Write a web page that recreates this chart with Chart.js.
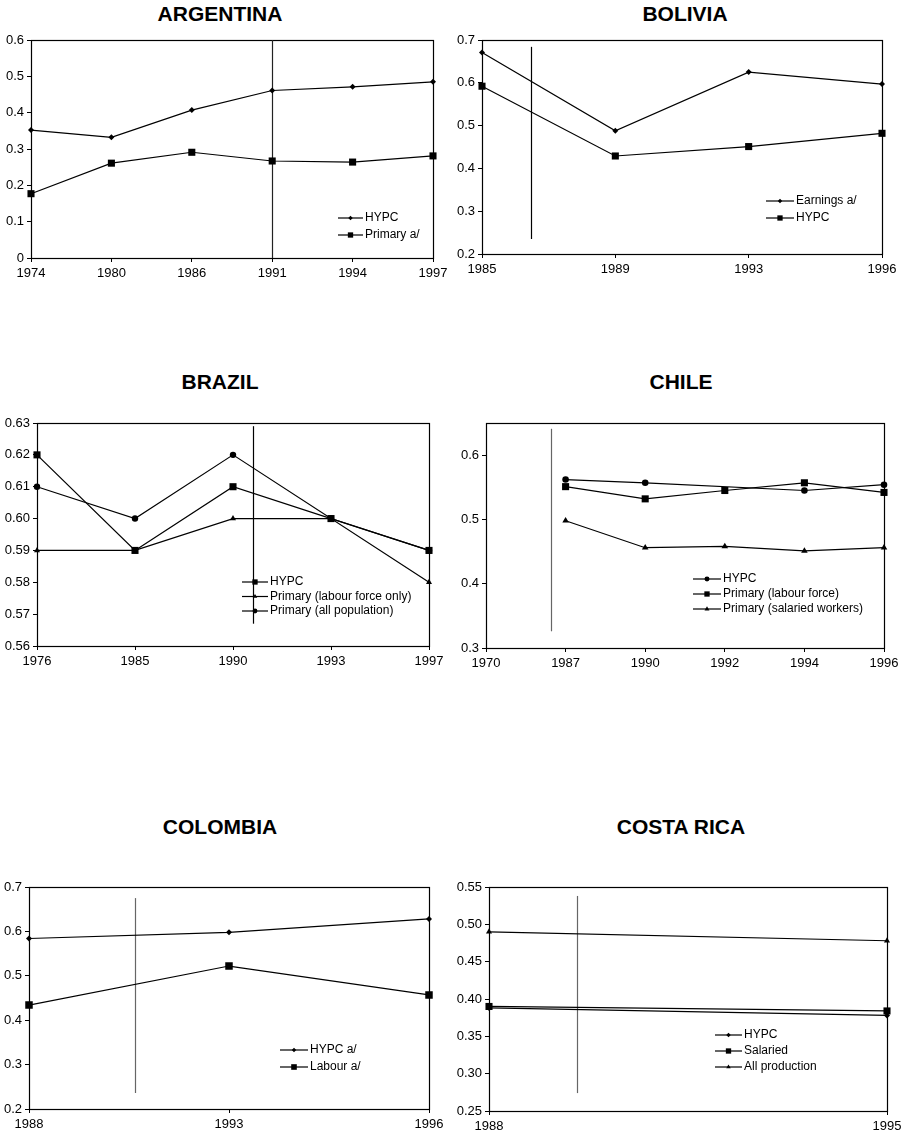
<!DOCTYPE html>
<html>
<head>
<meta charset="utf-8">
<script src="https://cdn.jsdelivr.net/npm/chart.js@4/dist/chart.umd.min.js"></script>
<style>
  body { margin: 0; background: #fff; width: 908px; height: 1134px; position: relative; overflow: hidden;
         font-family: "Liberation Sans", Arial, sans-serif; }
  .title { position: absolute; font-weight: bold; font-size: 21px; transform: translate(-50%, -50%); white-space: nowrap; }
  canvas { position: absolute; }
</style>
</head>
<body>
<div class="title" style="left:220px;top:14px">ARGENTINA</div>
<div class="title" style="left:685px;top:14px">BOLIVIA</div>
<div class="title" style="left:220px;top:382px">BRAZIL</div>
<div class="title" style="left:681px;top:382px">CHILE</div>
<div class="title" style="left:220px;top:827px">COLOMBIA</div>
<div class="title" style="left:681px;top:827px">COSTA RICA</div>

<canvas id="argentina"></canvas>
<canvas id="bolivia"></canvas>
<canvas id="brazil"></canvas>
<canvas id="chile"></canvas>
<canvas id="colombia"></canvas>
<canvas id="costarica"></canvas>

<script>
// ======== 1. DỮ LIỆU ========

// Argentina
const argYears = ["1974", "1980", "1986", "1991", "1994", "1997"];
const argHypc = [0.352, 0.332, 0.407, 0.461, 0.471, 0.485];
const argPrimary = [0.177, 0.261, 0.291, 0.267, 0.264, 0.281];

// Bolivia
const bolYears = ["1985", "1989", "1993", "1996"];
const bolEarnings = [0.671, 0.488, 0.625, 0.597];
const bolHypc = [0.592, 0.429, 0.451, 0.482];

// Brazil
const braYears = ["1976", "1985", "1990", "1993", "1997"];
const braHypc = [0.62, 0.59, 0.61, 0.60, 0.59];
const braLabour = [0.59, 0.59, 0.60, 0.60, 0.58];
const braAllPop = [0.61, 0.60, 0.62, 0.60, 0.59];

// Chile
const chiYears = ["1970", "1987", "1990", "1992", "1994", "1996"];
const chiHypc = [null, 0.562, 0.557, null, 0.545, 0.554];
const chiLabour = [null, 0.551, 0.532, 0.545, 0.557, 0.542];
const chiSalaried = [null, 0.498, 0.456, 0.458, 0.451, 0.456];

// Colombia
const colYears = ["1988", "1993", "1996"];
const colHypc = [0.584, 0.598, 0.628];
const colLabour = [0.434, 0.522, 0.457];

// Costa Rica
const crYears = ["1988", "1995"];
const crHypc = [0.388, 0.378];
const crSalaried = [0.390, 0.384];
const crAllProd = [0.490, 0.478];

// Vạch đứng: vị trí theo chỉ số danh mục, từ giá trị y đến giá trị y
const argBreak = [3, 0, 0.6];
const bolBreak = [0.37, 0.235, 0.684];
const braBreak = [2.2, 0.567, 0.629];
const chiBreak = [0.82, 0.326, 0.641];
const colBreak = [0.53, 0.236, 0.675];
const crBreak = [0.22, 0.274, 0.538];

// ======== 2. PLUGIN: KHUNG, VẠCH ĐỨNG, CHÚ THÍCH ========

const Y_AXIS_W = 40;
const X_AXIS_H = 22;

const panelDecor = {
  id: "panelDecor",
  beforeDatasetsDraw(chart, args, opts) {
    const ctx = chart.ctx;
    const a = chart.chartArea;
    const x = chart.scales.x;
    const y = chart.scales.y;
    ctx.save();
    ctx.strokeStyle = "#000";
    ctx.lineWidth = 1.2;
    ctx.strokeRect(Math.round(a.left) + 0.5, Math.round(a.top) + 0.5,
      Math.round(a.right - a.left), Math.round(a.bottom - a.top));

    const [at, from, to] = opts.vline;
    const px = Math.round(x.getPixelForValue(at)) + 0.5;
    ctx.strokeStyle = opts.vlineColor;
    ctx.lineWidth = 1.2;
    ctx.beginPath();
    ctx.moveTo(px, y.getPixelForValue(from));
    ctx.lineTo(px, y.getPixelForValue(to));
    ctx.stroke();
    ctx.restore();
  },
  afterDatasetsDraw(chart, args, opts) {
    const ctx = chart.ctx;
    const a = chart.chartArea;
    const lg = opts.legend;
    let yy = a.top + lg.dy;
    ctx.save();
    chart.data.datasets.forEach((ds) => {
      const sx = a.left + lg.dx;
      ctx.strokeStyle = "#000";
      ctx.fillStyle = "#000";
      ctx.lineWidth = 1.2;
      ctx.beginPath();
      ctx.moveTo(sx, yy);
      ctx.lineTo(sx + lg.len, yy);
      ctx.stroke();
      Chart.helpers.drawPoint(ctx, {
        pointStyle: ds.pointStyle,
        radius: ds.pointRadius * 0.75,
        rotation: 0,
        borderWidth: 0
      }, sx + lg.len / 2, yy);
      ctx.fillStyle = "#000";
      ctx.font = '12px "Liberation Sans", Arial, sans-serif';
      ctx.textBaseline = "middle";
      ctx.textAlign = "left";
      ctx.fillText(ds.label, sx + lg.len + 2, yy);
      yy += lg.gap;
    });
    ctx.restore();
  }
};

// ======== 3. HÀM TẠO BIỂU ĐỒ ========

function series(label, data, pointStyle, pointRadius) {
  return {
    label: label,
    data: data,
    borderColor: "#000",
    borderWidth: 1.2,
    pointStyle: pointStyle,
    pointRadius: pointRadius,
    pointBackgroundColor: "#000",
    pointBorderColor: "#000",
    pointBorderWidth: 0,
    spanGaps: true,
    tension: 0
  };
}

// plot = [left, top, right, bottom] (toạ độ trang); canvas bao quanh vùng vẽ
function makePanel(id, plot, labels, datasets, yOpts, vline, vlineColor, legend) {
  const box = [plot[0] - Y_AXIS_W, plot[1] - 14, plot[2] - plot[0] + Y_AXIS_W + 28, plot[3] - plot[1] + 14 + X_AXIS_H + 4];
  const canvas = document.getElementById(id);
  canvas.width = box[2];
  canvas.height = box[3];
  canvas.style.left = box[0] + "px";
  canvas.style.top = box[1] + "px";

  const padding = { left: 0, top: 14, right: 28, bottom: 4 };

  const tickFont = { family: '"Liberation Sans", Arial, sans-serif', size: 13 };
  const gridOpts = { display: true, drawOnChartArea: false, drawTicks: true, tickLength: 4, color: "#000", lineWidth: 1 };

  return new Chart(canvas.getContext("2d"), {
    type: "line",
    data: { labels: labels, datasets: datasets },
    options: {
      responsive: false,
      animation: false,
      devicePixelRatio: 1,
      layout: { padding: padding },
      scales: {
        x: {
          type: "category",
          offset: false,
          grid: gridOpts,
          border: { display: false },
          ticks: { autoSkip: false, maxRotation: 0, color: "#000", font: tickFont, padding: 4 },
          afterFit: (s) => { s.height = X_AXIS_H; s.paddingLeft = 0; s.paddingRight = 0; }
        },
        y: {
          type: "linear",
          min: yOpts.min,
          max: yOpts.max,
          grid: gridOpts,
          border: { display: false },
          ticks: {
            stepSize: yOpts.step,
            includeBounds: yOpts.includeBounds !== false,
            color: "#000",
            font: tickFont,
            padding: 3,
            callback: yOpts.format
          },
          afterFit: (s) => { s.width = Y_AXIS_W; }
        }
      },
      plugins: {
        legend: { display: false },
        tooltip: { enabled: false },
        panelDecor: { vline: vline, vlineColor: vlineColor, legend: legend }
      }
    },
    plugins: [panelDecor]
  });
}

const fmt1 = (v) => (v === 0 ? "0" : Number(v).toFixed(1));
const fmt2 = (v) => Number(v).toFixed(2);

// ======== 4. VẼ SÁU BIỂU ĐỒ ========

makePanel("argentina", [31, 40, 433, 258], argYears, [
  series("HYPC", argHypc, "rectRot", 3),
  series("Primary a/", argPrimary, "rect", 5)
], { min: 0, max: 0.6, step: 0.1, format: fmt1 }, argBreak, "#222",
  { dx: 307, dy: 178, len: 25, gap: 17 });

makePanel("bolivia", [482, 40, 882, 254], bolYears, [
  series("Earnings a/", bolEarnings, "rectRot", 3),
  series("HYPC", bolHypc, "rect", 5)
], { min: 0.2, max: 0.7, step: 0.1, format: fmt1 }, bolBreak, "#000",
  { dx: 284, dy: 161, len: 28, gap: 17 });

makePanel("brazil", [37, 423, 429, 646], braYears, [
  series("HYPC", braHypc, "rect", 5),
  series("Primary (labour force only)", braLabour, "triangle", 3.5),
  series("Primary (all population)", braAllPop, "circle", 3.2)
], { min: 0.56, max: 0.63, step: 0.01, format: fmt2 }, braBreak, "#000",
  { dx: 205, dy: 159, len: 26, gap: 14.5 });

makePanel("chile", [486, 423, 884, 648], chiYears, [
  series("HYPC", chiHypc, "circle", 3.3),
  series("Primary (labour force)", chiLabour, "rect", 5),
  series("Primary (salaried workers)", chiSalaried, "triangle", 3.8)
], { min: 0.3, max: 0.65, step: 0.1, includeBounds: false, format: fmt1 }, chiBreak, "#666",
  { dx: 207, dy: 156, len: 28, gap: 15 });

makePanel("colombia", [29, 887, 429, 1109], colYears, [
  series("HYPC a/", colHypc, "rectRot", 3),
  series("Labour a/", colLabour, "rect", 5.3)
], { min: 0.2, max: 0.7, step: 0.1, format: fmt1 }, colBreak, "#666",
  { dx: 251, dy: 163, len: 28, gap: 17 });

makePanel("costarica", [489, 887, 887, 1111], crYears, [
  series("HYPC", crHypc, "rectRot", 3),
  series("Salaried", crSalaried, "rect", 5),
  series("All production", crAllProd, "triangle", 3.5)
], { min: 0.25, max: 0.55, step: 0.05, format: fmt2 }, crBreak, "#666",
  { dx: 226, dy: 148, len: 27, gap: 16 });
</script>
</body>
</html>
